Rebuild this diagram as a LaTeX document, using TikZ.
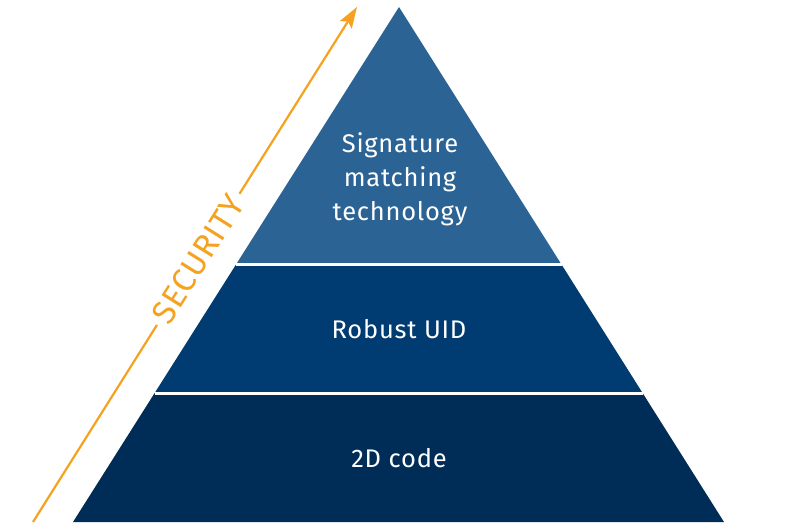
\documentclass[tikz,border=0pt]{standalone}
\usepackage{fontspec}
\setmainfont{Fira Sans}
\newfontfamily\tierfont{Fira Sans}[LetterSpace=3]
\newfontfamily\secfont{Fira Sans}[LetterSpace=2]
\usetikzlibrary{calc,arrows.meta}

\definecolor{tierTop}{RGB}{42,99,148}
\definecolor{tierMid}{RGB}{0,59,113}
\definecolor{tierLow}{RGB}{0,45,87}
\definecolor{secOrange}{RGB}{245,162,32}

\tikzset{
  tier label/.style={text=white,font=\tierfont\fontsize{25.5}{34}\selectfont,align=center},
  sec arrow/.style={secOrange,line width=2.2pt,-{Stealth[length=21pt,width=14pt,inset=4pt]}}
}

\begin{document}
\begin{tikzpicture}[x=1pt,y=-1pt]
  \useasboundingbox (0,0) rectangle (800,530);
  % security arrow
  \coordinate (sec0) at (33,522);
  \coordinate (sec1) at (357,7);
  \draw[sec arrow] (sec0) -- node[pos=0.51,sloped,fill=white,inner sep=5pt,text=secOrange,font=\secfont\fontsize{33}{36}\selectfont] (seclabel) {SECURITY} (sec1);
  % pyramid
  \coordinate (apex) at (399,7);
  \coordinate (bl) at (73,522);
  \coordinate (br) at (724,522);
  \foreach \s/\t in {1/0.25,2/0.5} {
    \coordinate (l\s) at ($(bl)!\t!(apex)$);
    \coordinate (r\s) at ($(br)!\t!(apex)$);
  }
  \fill[tierLow] (bl) -- (br) -- (r1) -- (l1) -- cycle;
  \fill[tierMid] (l1) -- (r1) -- (r2) -- (l2) -- cycle;
  \fill[tierTop] (l2) -- (r2) -- (apex) -- cycle;
  \foreach \s in {1,2} \draw[white,line width=3pt] (l\s) -- (r\s);
  % labels
  \node[tier label] (sigtech) at (400,179) {Signature\\matching\\technology};
  \node[tier label] (uid) at (399,329) {Robust UID};
  \node[tier label] (code2d) at (399,458) {2D code};
\end{tikzpicture}
\end{document}
